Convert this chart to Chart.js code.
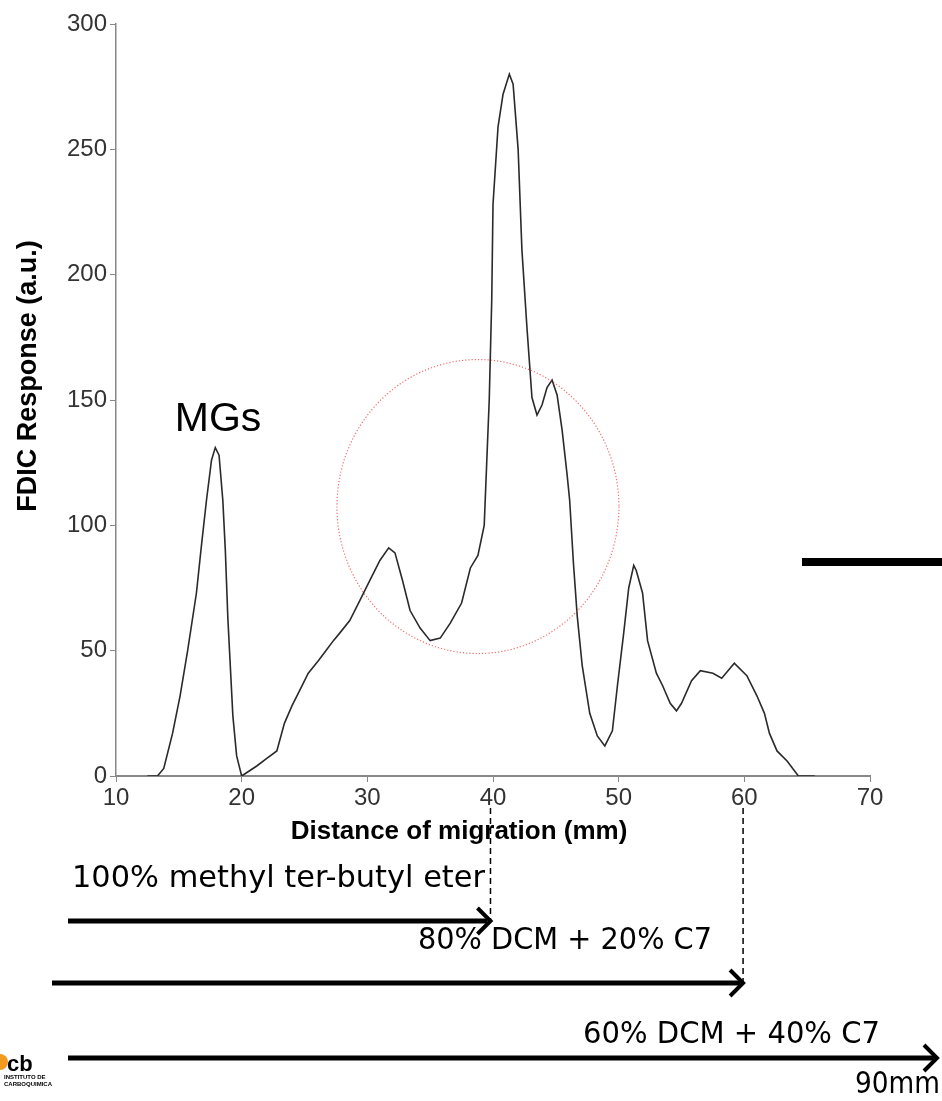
<!DOCTYPE html>
<html>
<head>
<meta charset="utf-8">
<script src="https://cdn.jsdelivr.net/npm/chart.js@4"></script>
<style>
html,body{margin:0;padding:0;background:#fff;}
#wrap{width:942px;height:1101px;position:relative;}
</style>
</head>
<body>
<div id="wrap"><canvas id="c" width="942" height="1101"></canvas></div>
<script>
// ---- data ----
const distanceMm = [12.5,13.3,13.8,14.5,15.1,15.7,16.4,16.8,17.2,17.6,17.9,18.2,18.5,18.7,18.9,19.3,19.6,20.0,
  20.6,21.2,22.0,22.8,23.4,24.0,24.6,25.3,26.1,26.7,27.3,27.8,28.6,29.4,30.2,31.0,31.7,32.2,32.8,33.4,34.2,35.0,
  35.8,36.6,37.5,38.2,38.8,39.3,39.7,39.9,40.0,40.4,40.8,41.3,41.6,42.0,42.3,42.7,43.1,43.5,43.9,44.3,44.7,45.1,
  45.5,45.9,46.1,46.4,46.7,47.1,47.7,48.3,48.9,49.5,49.9,50.4,50.8,51.2,51.4,51.9,52.3,53.0,53.5,54.1,54.6,55.0,
  55.8,56.5,57.5,58.2,58.7,59.2,60.2,61.0,61.6,62.0,62.6,63.4,64.3,65.6];
const response = [0,0,3,17,32,50,73,92,110,126,131,128,110,90,63,24,8,0,
  2,4,7,10,21,28,34,41,46,50,54,57,62,70,78,86,91,89,78,66,59,54,
  55,61,69,83,88,100,150,190,228,259,272,280,276,250,210,179,151,144,148,155,158,152,
  138,120,110,85,64,44,25,16,12,18,36,57,75,84,82,73,54,41,36,29,26,29,
  38,42,41,39,42,45,40,32,25,17,10,6,0,0];
const xTicks = [10,20,30,40,50,60,70];
const yTicks = [0,50,100,150,200,250,300];
const xTitle = 'Distance of migration (mm)';
const yTitle = 'FDIC Response (a.u.)';
const solventFronts = [39.8, 59.9];               // mm, end of the first two eluent steps
const solventLabels = ['100% methyl ter-butyl eter','80% DCM + 20% C7','60% DCM + 40% C7','90mm'];
const peakLabel = 'MGs';
const highlight = {x: 38.8, y: 107.5};          // centre of the dotted circle (data units)

const points = distanceMm.map((x,i)=>({x:x, y:response[i]}));

const tickFont = {family:'"Liberation Sans", Arial, sans-serif', size:24};
const sketchFont = '"DejaVu Sans", sans-serif';

const decor = {
  id:'decor',
  afterDraw(chart){
    const ctx = chart.ctx, xs = chart.scales.x, ys = chart.scales.y;
    ctx.save();
    // dotted red circle
    ctx.strokeStyle = 'rgba(240,60,60,0.75)';
    ctx.lineWidth = 1.2;
    ctx.setLineDash([1.2,2]);
    ctx.beginPath();
    ctx.ellipse(xs.getPixelForValue(highlight.x), ys.getPixelForValue(highlight.y), 141, 147, 0, 0, Math.PI*2);
    ctx.stroke();
    ctx.setLineDash([]);

    // MGs label
    ctx.fillStyle = '#000';
    ctx.font = '41px "Liberation Sans", Arial, sans-serif';
    ctx.textAlign = 'center'; ctx.textBaseline = 'alphabetic';
    ctx.fillText(peakLabel, 218, 431);

    // axis titles (placed like the reference, not centred on the plot)
    ctx.font = 'bold 26px "Liberation Sans", Arial, sans-serif';
    ctx.textAlign = 'center'; ctx.textBaseline = 'middle';
    ctx.fillText(xTitle, 459, 832);
    ctx.save();
    ctx.translate(29, 376);
    ctx.rotate(-Math.PI/2);
    ctx.font = 'bold 27px "Liberation Sans", Arial, sans-serif';
    ctx.fillText(yTitle, 0, 0);
    ctx.restore();

    // black bar at the right
    ctx.fillStyle = '#000';
    ctx.fillRect(802, 558, 140, 8);

    // dashed front markers and arrows
    const fx1 = xs.getPixelForValue(solventFronts[0]);
    const fx2 = xs.getPixelForValue(solventFronts[1]);
    ctx.strokeStyle = '#000';
    ctx.lineWidth = 1.5;
    ctx.setLineDash([6,4]);
    ctx.beginPath(); ctx.moveTo(fx1, 808); ctx.lineTo(fx1, 921); ctx.stroke();
    ctx.beginPath(); ctx.moveTo(fx2, 808); ctx.lineTo(fx2, 983); ctx.stroke();
    ctx.setLineDash([]);

    function arrow(x0, x1, y){
      ctx.lineWidth = 5; ctx.lineCap = 'butt';
      ctx.beginPath(); ctx.moveTo(x0, y); ctx.lineTo(x1-3, y); ctx.stroke();
      ctx.lineWidth = 4; ctx.lineJoin = 'miter';
      ctx.beginPath(); ctx.moveTo(x1-13, y-13); ctx.lineTo(x1, y); ctx.lineTo(x1-13, y+13); ctx.stroke();
    }
    arrow(68, fx1, 921);
    arrow(52, fx2, 983);
    arrow(68, 937, 1058);

    // eluent labels, fitted to the widths they have in the reference
    function fitText(txt, x, y, w){
      ctx.font = '30px ' + sketchFont;
      const m = ctx.measureText(txt).width;
      ctx.save();
      ctx.translate(x, y);
      ctx.scale(w/m, 1);
      ctx.fillText(txt, 0, 0);
      ctx.restore();
    }
    ctx.fillStyle = '#000';
    ctx.textAlign = 'left'; ctx.textBaseline = 'middle';
    fitText(solventLabels[0], 72, 879, 413);
    fitText(solventLabels[1], 418, 941, 294);
    fitText(solventLabels[2], 583, 1035, 297);
    fitText(solventLabels[3], 855, 1085, 85);

    // logo
    ctx.fillStyle = '#f29a1f';
    ctx.beginPath(); ctx.arc(0, 1062, 8, -Math.PI/2, Math.PI/2); ctx.fill();
    ctx.fillStyle = '#000';
    ctx.font = 'bold 22px "Liberation Sans", Arial, sans-serif';
    ctx.textBaseline = 'alphabetic';
    ctx.fillText('cb', 7, 1071);
    ctx.font = 'bold 6px "Liberation Sans", Arial, sans-serif';
    ctx.fillText('INSTITUTO DE', 4, 1079);
    ctx.fillText('CARBOQUIMICA', 4, 1086);
    ctx.restore();
  }
};

new Chart(document.getElementById('c'), {
  type:'line',
  data:{datasets:[{
    data:points,
    borderColor:'#2a2a2a',
    borderWidth:1.6,
    pointRadius:0,
    tension:0,
    fill:false
  }]},
  options:{
    responsive:false,
    animation:false,
    events:[],
    layout:{padding:{left:0, right:72, top:24, bottom:275}},
    plugins:{legend:{display:false}, tooltip:{enabled:false}},
    scales:{
      x:{
        type:'linear', min:10, max:70,
        afterBuildTicks(s){ s.ticks = xTicks.map(v=>({value:v})); },
        afterFit(s){ s.height = 50; },
        ticks:{font:tickFont, color:'#333', padding:2, maxRotation:0},
        grid:{drawOnChartArea:false, tickLength:6, color:'#888'},
        border:{color:'#888', width:2}
      },
      y:{
        type:'linear', min:0, max:300,
        afterBuildTicks(s){ s.ticks = yTicks.map(v=>({value:v})); },
        afterFit(s){ s.width = 116; },
        ticks:{font:tickFont, color:'#333', padding:3},
        grid:{drawOnChartArea:false, tickLength:6, color:'#888'},
        border:{color:'#888', width:1.5}
      }
    }
  },
  plugins:[decor]
});
</script>
</body>
</html>
